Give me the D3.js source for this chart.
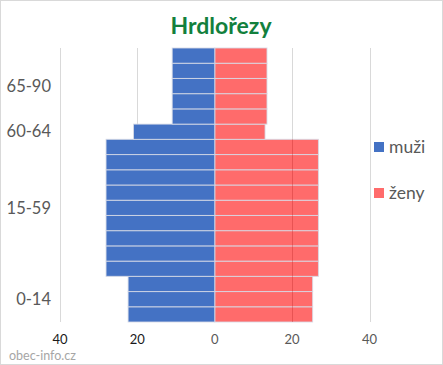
<!DOCTYPE html>
<html><head><meta charset="utf-8">
<script src="https://cdn.jsdelivr.net/npm/d3@7"></script>
<style>
html,body{margin:0;padding:0;background:#fff;}
svg{display:block;}
</style></head>
<body>
<svg id="c" width="443" height="365"></svg>
<script>
// ---- data ----
const title = "Hrdlořezy";
const ageGroups = ["0-14", "15-59", "60-64", "65-90"];
const rowsPerGroup = [3, 9, 1, 5];
// per-row values, bottom to top
const maleRows   = [22.4, 22.4, 22.4, 28.1, 28.1, 28.1, 28.1, 28.1, 28.1, 28.1, 28.1, 28.1, 21, 11, 11, 11, 11, 11];
const femaleRows = [25.3, 25.3, 25.3, 26.8, 26.8, 26.8, 26.8, 26.8, 26.8, 26.8, 26.8, 26.8, 13, 13.5, 13.5, 13.5, 13.5, 13.5];
const xTicks = [-40, -20, 0, 20, 40];
const seriesNames = ["muži", "ženy"];
const seriesColors = ["#4472C4", "#FF6B6B"];

// ---- layout ----
const svg = d3.select("#c");
const W = 443, H = 365;
const plot = {left: 60, right: 369.5, top: 48, bottom: 322};
const font = "Lato, 'Open Sans', sans-serif";

svg.append("rect").attr("x", 0.5).attr("y", 0.5).attr("width", W - 1).attr("height", H - 1)
  .attr("fill", "#fff").attr("stroke", "#d9d9d9");

const x = d3.scaleLinear().domain([-40, 40]).range([plot.left, plot.right]);
const rowIdx = d3.range(maleRows.length);
const y = d3.scaleBand().domain(rowIdx).range([plot.bottom, plot.top]).padding(0);

// title
svg.append("text").attr("x", 221).attr("y", 34).attr("text-anchor", "middle")
  .attr("font-family", font).attr("font-weight", "bold").attr("font-size", 23)
  .attr("fill", "#12803d").text(title);

// gridlines (under)
svg.append("g").selectAll("line").data(xTicks).join("line")
  .attr("x1", d => Math.round(x(d)) + 0.5).attr("x2", d => Math.round(x(d)) + 0.5)
  .attr("y1", plot.top).attr("y2", plot.bottom)
  .attr("stroke", "#d9d9d9");

const barStroke = "rgba(215,218,230,0.85)";
// female bars
svg.append("g").selectAll("rect").data(rowIdx).join("rect")
  .attr("x", x(0)).attr("y", i => y(i))
  .attr("width", i => x(femaleRows[i]) - x(0)).attr("height", y.bandwidth())
  .attr("fill", seriesColors[1]).attr("stroke", barStroke).attr("stroke-width", 1);

// gridlines showing through female bars (only where a bar covers them)
const through = [];
rowIdx.forEach(i => xTicks.filter(t => t > 0 && femaleRows[i] > t).forEach(t => through.push({i, t})));
svg.append("g")
  .selectAll("line").data(through).join("line")
  .attr("x1", d => Math.round(x(d.t)) + 0.5).attr("x2", d => Math.round(x(d.t)) + 0.5)
  .attr("y1", d => y(d.i)).attr("y2", d => y(d.i) + y.bandwidth())
  .attr("stroke", "rgba(190,40,40,0.35)");

// male bars
svg.append("g").selectAll("rect").data(rowIdx).join("rect")
  .attr("x", i => x(-maleRows[i])).attr("y", i => y(i))
  .attr("width", i => x(0) - x(-maleRows[i])).attr("height", y.bandwidth())
  .attr("fill", seriesColors[0]).attr("stroke", barStroke).attr("stroke-width", 1);

// x tick labels
svg.append("g").selectAll("text").data(xTicks).join("text")
  .attr("x", d => x(d)).attr("y", 344).attr("text-anchor", "middle")
  .attr("font-family", font).attr("font-size", 13)
  .attr("fill", d => d < 0 ? "#1a1a1a" : "#595959")
  .text(d => Math.abs(d));

// y group labels
let start = 0;
const groupPos = ageGroups.map((g, k) => {
  const s = start, e = start + rowsPerGroup[k] - 1;
  start += rowsPerGroup[k];
  return {g, mid: (y(s) + y.bandwidth() + y(e)) / 2};
});
svg.append("g").selectAll("text").data(groupPos).join("text")
  .attr("x", 51).attr("y", d => d.mid).attr("dy", "0.35em").attr("text-anchor", "end")
  .attr("font-family", font).attr("font-size", 16.5).attr("fill", "#595959")
  .text(d => d.g);

// legend
const legY = [147, 193];
const leg = svg.append("g").selectAll("g").data(seriesNames).join("g");
leg.append("rect").attr("x", 374).attr("y", (d, i) => legY[i] - 5).attr("width", 10).attr("height", 10)
  .attr("fill", (d, i) => seriesColors[i]);
leg.append("text").attr("x", 389).attr("y", (d, i) => legY[i]).attr("dy", "0.35em")
  .attr("font-family", font).attr("font-size", 17.5).attr("fill", "#595959").text(d => d);

// watermark
svg.append("text").attr("x", 9).attr("y", 360).attr("font-family", font).attr("font-size", 12.5)
  .attr("fill", "#a6a6a6").text("obec-info.cz");
</script>
</body></html>
